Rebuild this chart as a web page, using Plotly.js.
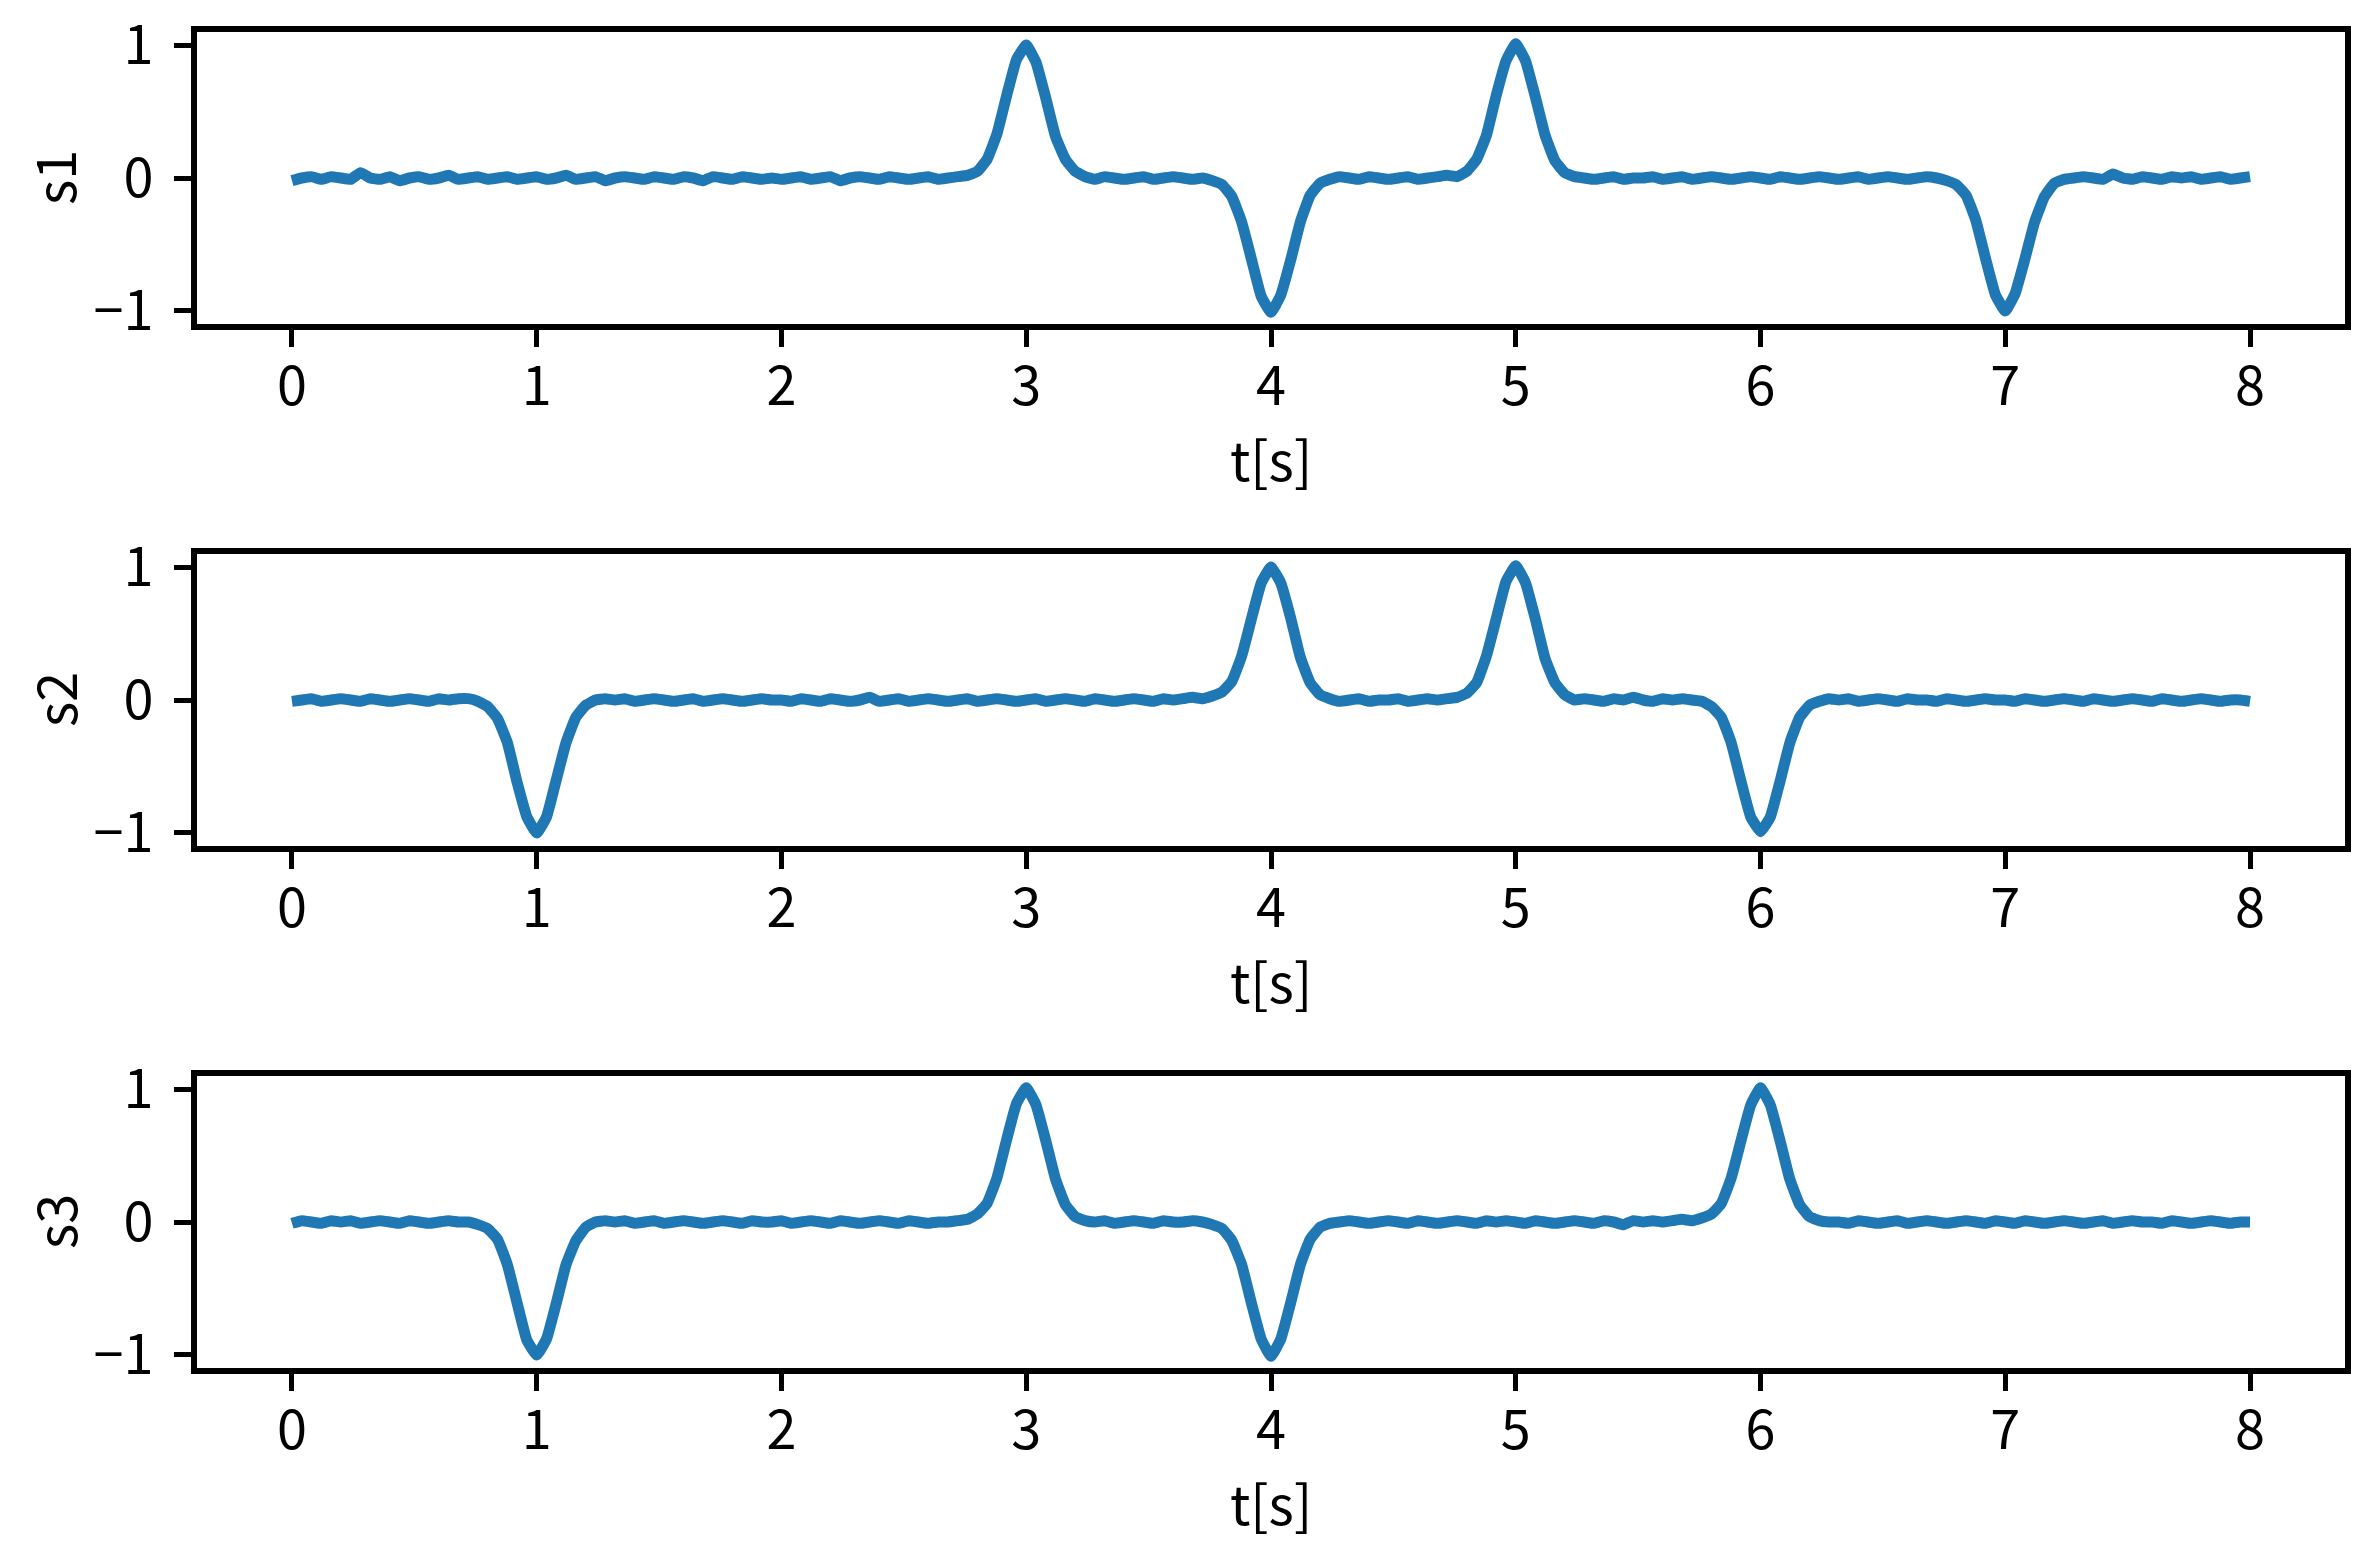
<!DOCTYPE html>
<html>
<head>
<meta charset="utf-8">
<script src="https://cdn.plot.ly/plotly-3.0.1.min.js"></script>
<style>html,body{margin:0;padding:0;background:#fff;}#chart{width:2374px;height:1554px;}</style>
</head>
<body>
<div id="chart"></div>
<script>
// sampling of the signals: start time and step (seconds)
const t0 = 0;
const dt = 0.04;

const seriesNames = ["s1", "s2", "s3"];
const xTickVals = [0, 1, 2, 3, 4, 5, 6, 7, 8];
const yTickVals = [-1, 0, 1];
const yTickText = ["\u22121", "0", "1"];
const xTitle = "t[s]";

// s1: +1 at 3 s and 5 s, -1 at 4 s and 7 s (values read per 0.04 s)
const s1 = [
  -0.02, 0.00, 0.01, -0.01, 0.01, 0.00, -0.01, 0.04, 0.00, -0.01, 0.01, -0.02, 0.00, 0.01, -0.01, 0.00, 0.02, -0.01, 0.00, 0.01, -0.01, 0.00, 0.01, -0.01, 0.00,
  0.01, -0.01, 0.00, 0.02, -0.01, 0.00, 0.01, -0.02, 0.00, 0.01, 0.00, -0.01, 0.01, 0.00, -0.01, 0.01, 0.00, -0.02, 0.01, 0.00, -0.01, 0.01, 0.00, -0.01, 0.00,
  -0.01, 0.00, 0.01, -0.01, 0.00, 0.01, -0.02, 0.00, 0.01, 0.00, -0.01, 0.01, 0.00, -0.01, 0.00, 0.01, -0.01, 0.00, 0.01, 0.02, 0.05, 0.14, 0.33, 0.62, 0.89,
  1.00, 0.87, 0.60, 0.31, 0.14, 0.05, 0.01, -0.01, 0.01, 0.00, -0.01, 0.00, 0.01, -0.01, 0.00, 0.01, 0.00, -0.01, 0.00, -0.02, -0.05, -0.14, -0.33, -0.61, -0.89,
  -1.01, -0.88, -0.62, -0.33, -0.13, -0.04, -0.01, 0.01, 0.00, -0.01, 0.01, 0.00, -0.01, 0.00, 0.01, -0.01, 0.00, 0.01, 0.02, 0.01, 0.05, 0.14, 0.32, 0.62, 0.88,
  1.01, 0.88, 0.61, 0.32, 0.13, 0.04, 0.01, 0.00, -0.01, 0.00, 0.01, -0.01, 0.00, 0.00, 0.01, -0.01, 0.00, 0.01, -0.01, 0.00, 0.01, 0.00, -0.01, 0.00, 0.01,
  0.00, -0.01, 0.01, 0.00, -0.01, 0.00, 0.01, 0.00, -0.01, 0.00, 0.01, -0.01, 0.00, 0.01, 0.00, -0.01, 0.00, 0.01, 0.00, -0.02, -0.05, -0.13, -0.32, -0.61, -0.88,
  -1.00, -0.87, -0.61, -0.33, -0.14, -0.04, -0.01, 0.00, 0.01, 0.00, -0.01, 0.03, 0.00, -0.01, 0.01, 0.00, -0.01, 0.01, 0.00, 0.01, -0.01, 0.00, 0.01, -0.01, 0.00,
  0.01
];

// s2: -1 at 1 s and 6 s, +1 at 4 s and 5 s
const s2 = [
  -0.01, 0.00, 0.01, -0.01, 0.00, 0.01, 0.00, -0.01, 0.01, 0.00, -0.01, 0.00, 0.01, 0.00, -0.01, 0.01, 0.00, 0.01, 0.01, -0.01, -0.05, -0.14, -0.32, -0.62, -0.88,
  -1.00, -0.88, -0.60, -0.32, -0.13, -0.04, 0.00, 0.01, 0.00, 0.01, -0.01, 0.00, 0.01, 0.00, -0.01, 0.00, 0.01, -0.01, 0.00, 0.01, 0.00, -0.01, 0.00, 0.01, 0.00,
  0.00, -0.01, 0.01, 0.00, -0.01, 0.01, 0.00, -0.01, 0.00, 0.02, -0.01, 0.00, 0.01, -0.01, 0.00, 0.01, 0.00, -0.01, 0.00, 0.01, -0.01, 0.00, 0.01, 0.00, -0.01,
  0.00, 0.01, -0.01, 0.00, 0.01, 0.00, -0.01, 0.01, 0.00, -0.01, 0.00, 0.01, 0.00, -0.01, 0.01, 0.00, 0.01, 0.02, 0.01, 0.03, 0.06, 0.14, 0.33, 0.61, 0.88,
  1.00, 0.88, 0.62, 0.32, 0.13, 0.04, 0.01, -0.01, 0.00, 0.01, -0.01, 0.00, 0.00, 0.01, -0.01, 0.00, 0.01, 0.00, 0.01, 0.02, 0.05, 0.13, 0.33, 0.61, 0.89,
  1.01, 0.88, 0.61, 0.31, 0.13, 0.04, 0.00, 0.01, 0.00, -0.01, 0.01, 0.00, 0.02, 0.00, -0.01, 0.01, 0.00, 0.01, 0.00, -0.01, -0.05, -0.13, -0.32, -0.61, -0.88,
  -0.99, -0.88, -0.61, -0.32, -0.13, -0.04, -0.01, 0.01, 0.00, 0.01, -0.01, 0.00, 0.01, 0.00, -0.01, 0.01, 0.00, 0.00, -0.01, 0.01, 0.00, -0.01, 0.00, 0.01, 0.00,
  0.00, -0.01, 0.01, 0.00, -0.01, 0.00, 0.01, 0.00, -0.01, 0.01, 0.00, -0.01, 0.00, 0.01, 0.00, -0.01, 0.01, 0.00, -0.01, 0.00, 0.01, 0.00, -0.01, 0.00, 0.00,
  -0.01
];

// s3: -1 at 1 s and 4 s, +1 at 3 s and 6 s
const s3 = [
  -0.01, 0.01, 0.00, -0.01, 0.01, 0.00, 0.01, -0.01, 0.00, 0.01, 0.00, -0.01, 0.01, 0.00, -0.01, 0.00, 0.01, 0.00, 0.00, -0.02, -0.05, -0.13, -0.32, -0.61, -0.89,
  -1.00, -0.88, -0.61, -0.32, -0.14, -0.04, 0.00, 0.01, 0.00, 0.01, -0.01, 0.00, 0.01, -0.01, 0.00, 0.01, 0.00, -0.01, 0.00, 0.01, 0.00, -0.01, 0.01, 0.00, 0.00,
  0.01, -0.01, 0.00, 0.01, 0.00, -0.01, 0.01, 0.00, -0.01, 0.00, 0.01, 0.00, -0.01, 0.01, 0.00, -0.01, 0.00, 0.00, 0.01, 0.02, 0.06, 0.14, 0.33, 0.62, 0.89,
  1.01, 0.88, 0.61, 0.32, 0.13, 0.04, 0.01, 0.00, 0.01, -0.01, 0.00, 0.01, 0.00, -0.01, 0.01, 0.00, 0.00, 0.01, 0.00, -0.02, -0.05, -0.14, -0.32, -0.61, -0.88,
  -1.01, -0.88, -0.61, -0.32, -0.13, -0.04, -0.01, 0.00, 0.01, 0.00, -0.01, 0.00, 0.01, 0.00, -0.01, 0.01, 0.00, -0.01, 0.00, 0.01, 0.00, -0.01, 0.01, 0.00, 0.01,
  0.00, -0.01, 0.01, 0.00, -0.01, 0.00, 0.01, 0.00, -0.01, 0.01, 0.00, -0.02, 0.01, 0.00, 0.01, 0.00, 0.01, 0.02, 0.01, 0.03, 0.06, 0.14, 0.33, 0.61, 0.88,
  1.01, 0.88, 0.61, 0.32, 0.13, 0.04, 0.01, 0.00, 0.00, -0.01, 0.01, 0.00, -0.01, 0.00, 0.01, -0.01, 0.00, 0.01, 0.00, -0.01, 0.00, 0.01, 0.00, -0.01, 0.01,
  0.00, -0.01, 0.01, 0.00, -0.01, 0.00, 0.01, 0.00, -0.01, 0.00, 0.01, -0.01, 0.00, 0.01, 0.00, 0.00, -0.01, 0.01, 0.00, -0.01, 0.00, 0.01, 0.00, -0.01, 0.00,
  0.00
];

const series = [s1, s2, s3];
const FONT = '"Noto Sans CJK SC", "Noto Sans", "DejaVu Sans", sans-serif';
const FS = 54;
const W = 2374, H = 1554;
const LW = 5.5;
// pixel boxes of the three axes frames (line centres)
const xL = 194, xR = 2348;
const panelTops = [29, 551, 1073];
const panelH = 298;

const data = [];
const annotations = [];
const layout = {
  width: W, height: H,
  margin: {l: 0, r: 0, t: 0, b: 0, pad: 0},
  paper_bgcolor: "#ffffff", plot_bgcolor: "#ffffff",
  showlegend: false,
  font: {family: FONT, size: FS, color: "#000000"}
};

series.forEach((ys, i) => {
  const n = i === 0 ? "" : String(i + 1);
  data.push({
    type: "scatter", mode: "lines",
    x0: t0, dx: dt, y: ys,
    xaxis: "x" + n, yaxis: "y" + n,
    line: {color: "#1f77b4", width: 11, shape: "spline", smoothing: 0.35},
    hoverinfo: "skip"
  });
  const top = panelTops[i] + LW / 2, bot = panelTops[i] + panelH - LW / 2;
  const common = {
    showline: true, mirror: true, linecolor: "#000", linewidth: LW,
    showgrid: false, zeroline: false,
    ticks: "outside", ticklen: 17, tickwidth: 5, tickcolor: "#000",
    tickfont: {family: FONT, size: FS, color: "#000"},
    fixedrange: true, automargin: false
  };
  layout["xaxis" + n] = Object.assign({}, common, {
    domain: [(xL + LW / 2) / W, (xR - LW / 2) / W],
    anchor: "y" + n,
    range: [-0.389, 8.389],
    tickmode: "array", tickvals: xTickVals,
    ticklabelstandoff: -7
  });
  layout["yaxis" + n] = Object.assign({}, common, {
    domain: [1 - bot / H, 1 - top / H],
    anchor: "x" + n,
    range: [-1.1, 1.1],
    tickmode: "array", tickvals: yTickVals, ticktext: yTickText,
    ticklabelstandoff: 10
  });
  // axis titles
  annotations.push({
    text: xTitle, xref: "paper", yref: "paper",
    x: ((xL + xR) / 2) / W, y: 1 - (panelTops[i] + panelH + 130) / H,
    xanchor: "center", yanchor: "middle", showarrow: false, borderpad: 0,
    font: {family: FONT, size: FS, color: "#000"}
  });
  annotations.push({
    text: seriesNames[i], xref: "paper", yref: "paper",
    x: 53 / W, y: 1 - (panelTops[i] + panelH / 2) / H,
    xanchor: "center", yanchor: "middle", textangle: -90, showarrow: false,
    font: {family: FONT, size: FS, color: "#000"}
  });
});
layout.annotations = annotations;

Plotly.newPlot("chart", data, layout, {staticPlot: true, displayModeBar: false});
</script>
</body>
</html>
